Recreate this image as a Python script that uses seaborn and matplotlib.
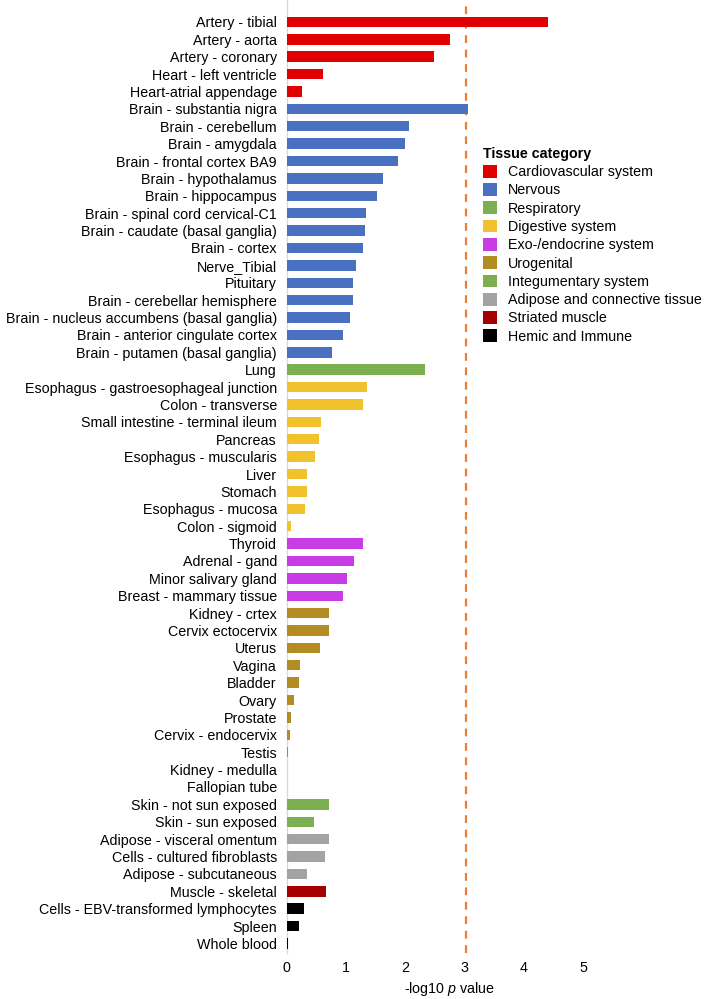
import numpy as np
import pandas as pd
import matplotlib
matplotlib.use("Agg")
import matplotlib.pyplot as plt
import seaborn as sns

tissues = [
    "Artery - tibial", "Artery - aorta", "Artery - coronary", "Heart - left ventricle",
    "Heart-atrial appendage",
    "Brain - substantia nigra", "Brain - cerebellum", "Brain - amygdala",
    "Brain - frontal cortex BA9", "Brain - hypothalamus", "Brain - hippocampus",
    "Brain - spinal cord cervical-C1", "Brain - caudate (basal ganglia)", "Brain - cortex",
    "Nerve_Tibial", "Pituitary", "Brain - cerebellar hemisphere",
    "Brain - nucleus accumbens (basal ganglia)", "Brain - anterior cingulate cortex",
    "Brain - putamen (basal ganglia)",
    "Lung",
    "Esophagus - gastroesophageal junction", "Colon - transverse",
    "Small intestine - terminal ileum", "Pancreas", "Esophagus - muscularis", "Liver",
    "Stomach", "Esophagus - mucosa", "Colon - sigmoid",
    "Thyroid", "Adrenal - gand", "Minor salivary gland", "Breast - mammary tissue",
    "Kidney - crtex", "Cervix ectocervix", "Uterus", "Vagina", "Bladder", "Ovary",
    "Prostate", "Cervix - endocervix", "Testis", "Kidney - medulla", "Fallopian tube",
    "Skin - not sun exposed", "Skin - sun exposed",
    "Adipose - visceral omentum", "Cells - cultured fibroblasts", "Adipose - subcutaneous",
    "Muscle - skeletal",
    "Cells - EBV-transformed lymphocytes", "Spleen", "Whole blood",
]

neg_log_p = [
    4.41, 2.75, 2.48, 0.62, 0.25,
    3.06, 2.06, 1.99, 1.87, 1.63, 1.53, 1.34, 1.32, 1.28, 1.16, 1.11, 1.11, 1.06, 0.95, 0.76,
    2.34,
    1.36, 1.28, 0.58, 0.54, 0.47, 0.34, 0.34, 0.31, 0.07,
    1.28, 1.13, 1.01, 0.95,
    0.72, 0.71, 0.56, 0.23, 0.21, 0.13, 0.07, 0.05, 0.03, 0.0, 0.0,
    0.71, 0.46,
    0.71, 0.64, 0.35,
    0.66,
    0.29, 0.21, 0.03,
]

group_sizes = [5, 15, 1, 9, 4, 11, 2, 3, 1, 3]
categories = [
    "Cardiovascular system", "Nervous", "Respiratory", "Digestive system",
    "Exo-/endocrine system", "Urogenital", "Integumentary system",
    "Adipose and connective tissue", "Striated muscle", "Hemic and Immune",
]
cat_colors = [
    "#E00000", "#4A70C1", "#7BAF50", "#F2C12E", "#C83CE6",
    "#B38C22", "#7BAF50", "#A3A3A3", "#A50000", "#000000",
]

threshold = 3.03

df = pd.DataFrame({
    "tissue": tissues,
    "value": neg_log_p,
    "category": np.repeat(categories, group_sizes),
})
palette = dict(zip(categories, cat_colors))

plt.rcParams["font.family"] = ["Liberation Sans", "DejaVu Sans"]
plt.rcParams["mathtext.fontset"] = "custom"
plt.rcParams["mathtext.rm"] = "Liberation Sans"
plt.rcParams["mathtext.it"] = "Liberation Sans:italic"

fig = plt.figure(figsize=(7.09, 9.99), dpi=100)
ax = fig.add_axes([0.4044, 0.046, 0.46, 0.954])

sns.barplot(data=df, x="value", y="tissue", hue="category", hue_order=categories,
            palette=palette, dodge=False, width=0.6, orient="h", ax=ax,
            saturation=1, legend=True, zorder=3)

ax.axvline(threshold, color="#ED7D31", linestyle=(0, (3.5, 3)), linewidth=1.6)

ax.set_xlim(0, 5.5)
ax.set_ylim(len(tissues) - 1 + 0.55, -1.26)
ax.set_xticks([0, 1, 2, 3, 4, 5])
ax.tick_params(axis="both", length=0, labelsize=10.3)
ax.tick_params(axis="x", pad=6)
ax.tick_params(axis="y", pad=7)
ax.set_ylabel("")
ax.set_xlabel("-log10 $p$ value", fontsize=10.3, labelpad=3)
for s in ["top", "right", "bottom"]:
    ax.spines[s].set_visible(False)
ax.spines["left"].set_color("#D9D9D9")
ax.spines["left"].set_linewidth(1)
ax.spines["left"].set_zorder(1)

leg = ax.legend(title="Tissue category", loc="upper left",
                bbox_to_anchor=(0.677, 1 - 0.144), bbox_transform=fig.transFigure,
                frameon=False, fontsize=10.3, handlelength=1.0, handleheight=1.0,
                handletextpad=0.75, labelspacing=0.28, alignment="left",
                borderaxespad=0, borderpad=0.2)
leg.get_title().set_fontweight("bold")
leg.get_title().set_fontsize(10.3)

fig.savefig("out.png", dpi=100)
